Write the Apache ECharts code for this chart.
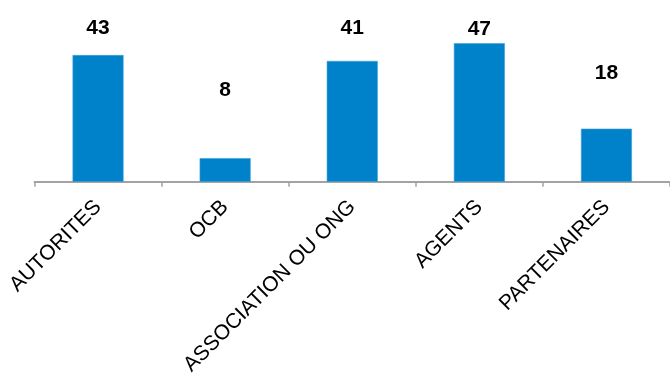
<!DOCTYPE html>
<html>
<head>
<meta charset="utf-8">
<script src="https://cdn.jsdelivr.net/npm/echarts@6/dist/echarts.min.js"></script>
<style>
  html, body { margin: 0; padding: 0; background: #fff; }
  #chart { width: 670px; height: 378px; }
</style>
</head>
<body>
<div id="chart"></div>
<script>
// Respondent groups and their counts
const categories = ['AUTORITES', 'OCB', 'ASSOCIATION OU ONG', 'AGENTS', 'PARTENAIRES'];
const values = [43, 8, 41, 47, 18];

// Gap between each bar top and its value label (px)
const labelGap = [16, 57, 22, 4, 45];

const chart = echarts.init(document.getElementById('chart'), null, { renderer: 'canvas' });

const seriesData = values.map((v, i) => ({
  value: v,
  label: { distance: labelGap[i] }
}));

chart.setOption({
  animation: false,
  grid: { left: 34.5, right: -4.5, top: 5, bottom: 195, containLabel: false },
  xAxis: {
    type: 'category',
    data: categories,
    axisLine: { lineStyle: { color: '#a3a3a3', width: 2 } },
    axisTick: { show: true, length: 5, lineStyle: { color: '#a3a3a3', width: 1.5 } },
    axisLabel: {
      rotate: 45,
      margin: 22,
      interval: 0,
      color: '#000',
      fontFamily: 'Liberation Sans, Arial, sans-serif',
      fontSize: 21
    }
  },
  yAxis: {
    type: 'value',
    min: 0,
    max: 60,
    show: false,
    splitLine: { show: false }
  },
  series: [{
    type: 'bar',
    data: seriesData,
    barWidth: 51,
    itemStyle: { color: '#0082CA', borderColor: '#3a9fd8', borderWidth: 0.6 },
    label: {
      show: true,
      position: 'top',
      color: '#000',
      fontWeight: 'bold',
      fontFamily: 'Liberation Sans, Arial, sans-serif',
      fontSize: 21
    }
  }]
});
</script>
</body>
</html>
